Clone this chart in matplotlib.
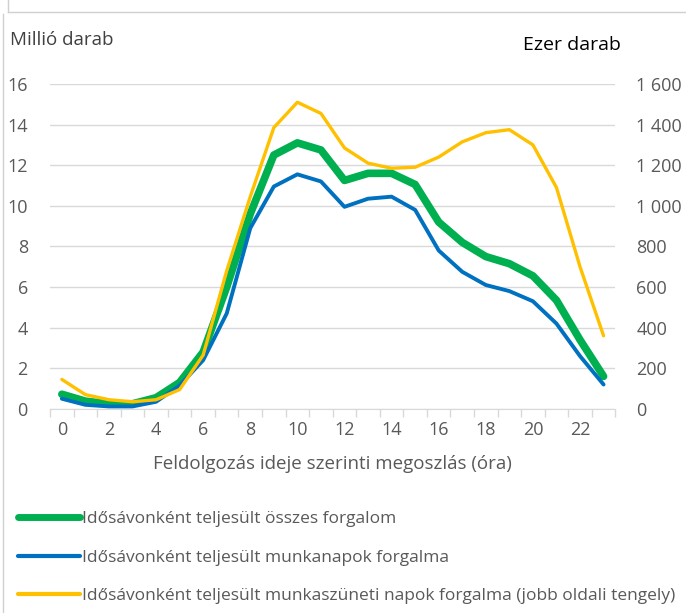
import matplotlib.pyplot as plt
from matplotlib.lines import Line2D
from matplotlib.ticker import FuncFormatter

plt.rcParams['font.family'] = ['Open Sans', 'DejaVu Sans']

hours = list(range(24))
# millio darab
osszes = [0.72, 0.38, 0.25, 0.25, 0.55, 1.3, 2.8, 6.0, 9.6, 12.5, 13.1, 12.75,
          11.25, 11.6, 11.6, 11.05, 9.2, 8.2, 7.5, 7.15, 6.55, 5.35, 3.4, 1.6]
munkanap = [0.5, 0.2, 0.12, 0.12, 0.35, 1.15, 2.4, 4.7, 8.9, 10.95, 11.55, 11.2,
            9.95, 10.35, 10.45, 9.8, 7.8, 6.75, 6.1, 5.8, 5.3, 4.2, 2.6, 1.2]
# ezer darab (jobb oldali tengely)
munkaszunet = [145, 70, 45, 35, 45, 95, 265, 680, 1045, 1385, 1510, 1455,
               1285, 1210, 1185, 1190, 1240, 1315, 1360, 1375, 1300, 1090, 700, 360]

legend_labels = ['Idősávonként teljesült összes forgalom',
                 'Idősávonként teljesült munkanapok forgalma',
                 'Idősávonként teljesült munkaszüneti napok forgalma (jobb oldali tengely)']

c_green = '#00B050'
c_blue = '#0070C0'
c_orange = '#FFC000'
txt = '#595959'

fig = plt.figure(figsize=(6.86, 6.13), dpi=100)
ax2 = fig.add_axes([0.073, 0.333, 0.824, 0.530])
ax = ax2.twinx()

ax2.plot(hours, osszes, color=c_green, lw=5.5, solid_capstyle='round', zorder=3)
ax2.plot(hours, munkanap, color=c_blue, lw=2.8, solid_capstyle='round', zorder=4)
ax.plot(hours, munkaszunet, color=c_orange, lw=2.4, solid_capstyle='round')

ax2.set_xlim(-0.5, 23.5)
ax2.set_ylim(0, 16)
ax.set_ylim(0, 1600)
ax2.set_yticks(range(0, 17, 2))
ax.set_yticks(range(0, 1601, 200))
ax.yaxis.set_major_formatter(FuncFormatter(lambda v, p: f'{int(v):,}'.replace(',', ' ')))

ax2.set_xticks(range(0, 24, 2))
ax2.set_xticks([h - 0.5 for h in range(25)], minor=True)
ax2.tick_params(axis='x', which='major', length=0, pad=9, labelsize=13, labelcolor=txt)
ax2.tick_params(axis='x', which='minor', length=6, color='#D9D9D9', width=1)
ax2.tick_params(axis='y', length=0, labelsize=13, labelcolor=txt, pad=16)
ax.tick_params(axis='y', length=0, labelsize=13, labelcolor=txt, pad=15)

ax2.grid(axis='y', color='#D9D9D9', lw=1)
ax2.set_axisbelow(True)
for a in (ax, ax2):
    for s in ('top', 'right', 'left'):
        a.spines[s].set_visible(False)
    a.spines['bottom'].set_color('#D9D9D9')
ax.spines['bottom'].set_visible(False)

ax2.set_xlabel('Feldolgozás ideje szerinti megoszlás (óra)', fontsize=13.5,
               color=txt, labelpad=11)

fig.text(0.015, 0.935, 'Millió darab', fontsize=13.5, color='#404040', va='center')
fig.text(0.762, 0.927, 'Ezer darab', fontsize=14, color='black', va='center')

handles = [Line2D([], [], color=c_green, lw=5, solid_capstyle='round'),
           Line2D([], [], color=c_blue, lw=3, solid_capstyle='round'),
           Line2D([], [], color=c_orange, lw=3, solid_capstyle='round')]
fig.legend(handles, legend_labels, loc='upper left', bbox_to_anchor=(0.016, 0.178),
           frameon=False, fontsize=12.5, labelcolor=txt, handlelength=3.6,
           handletextpad=0.08, labelspacing=1.3, borderaxespad=0)

# keret maradvanyok
fig.add_artist(Line2D([0.012, 1], [0.981, 0.981], color='#D0D0D0', lw=1))
fig.add_artist(Line2D([0.012, 0.012], [0.981, 1], color='#D0D0D0', lw=1))
fig.add_artist(Line2D([0.004, 0.004], [0, 0.977], color='#D0D0D0', lw=1))

fig.savefig('out.png', dpi=100)
